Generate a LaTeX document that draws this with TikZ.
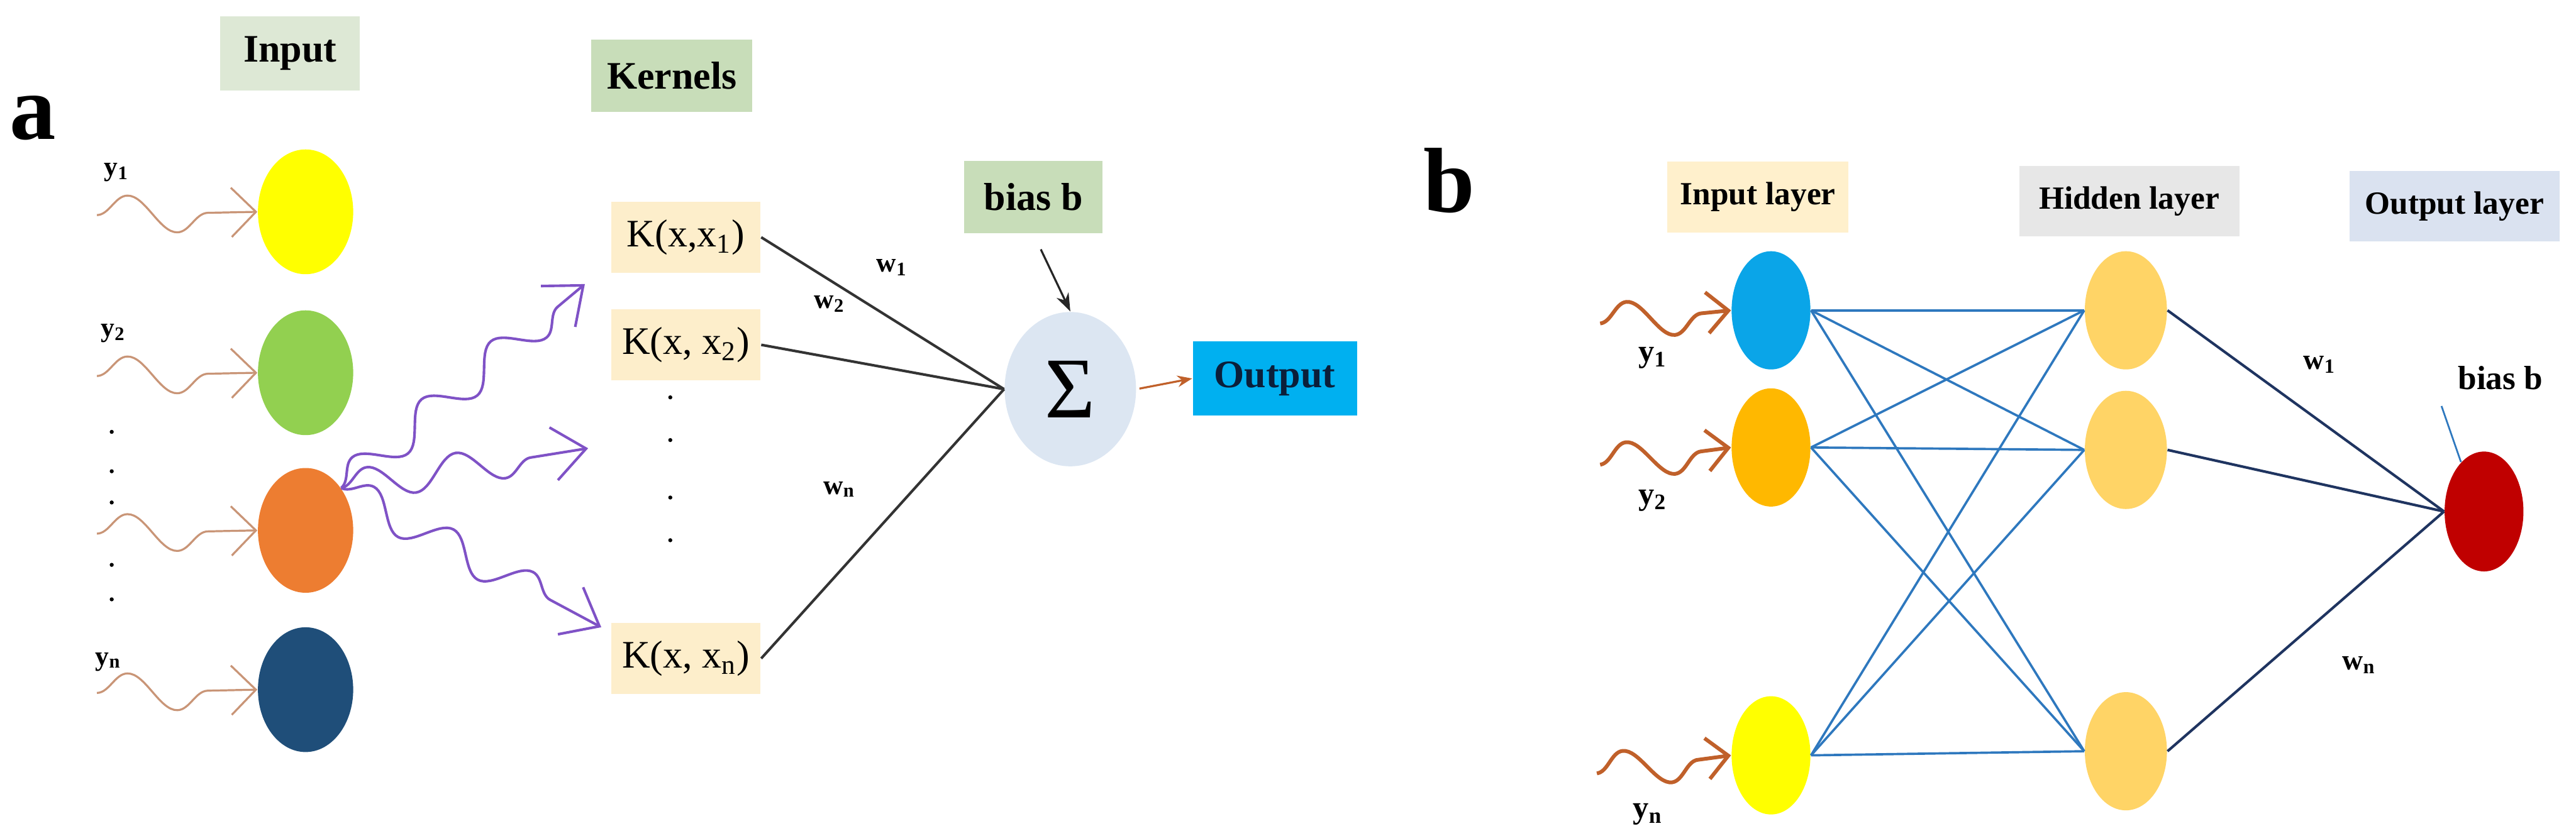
\documentclass[tikz,border=0pt]{standalone}
\usepackage{fontspec}
\setmainfont{Liberation Serif}
\usepackage{tikz}
\usetikzlibrary{positioning,arrows.meta,shapes.geometric,decorations.pathmorphing}

\definecolor{sagebox}{HTML}{DDE8D5}
\definecolor{greenbox}{HTML}{C8DDB9}
\definecolor{kfill}{HTML}{FDEECB}
\definecolor{sumfill}{HTML}{DCE6F2}
\definecolor{outcyan}{HTML}{00B0F0}
\definecolor{outtext}{HTML}{0B1F3A}
\definecolor{cyellow}{HTML}{FFFF00}
\definecolor{cgreen}{HTML}{92D050}
\definecolor{corange}{HTML}{ED7D31}
\definecolor{cnavy}{HTML}{1F4E79}
\definecolor{cblue}{HTML}{0AA5E8}
\definecolor{camber}{HTML}{FFB800}
\definecolor{chidden}{HTML}{FFD466}
\definecolor{cred}{HTML}{C00000}
\definecolor{peach}{HTML}{FFF0CC}
\definecolor{lgray}{HTML}{E7E7E7}
\definecolor{lblue}{HTML}{DAE2F0}
\definecolor{squigbrown}{HTML}{C99577}
\definecolor{squigrust}{HTML}{C0602A}
\definecolor{purp}{HTML}{7F52C6}
\definecolor{netblue}{HTML}{2E78BE}
\definecolor{netnavy}{HTML}{1F3460}

\newcommand{\fs}[1]{\fontsize{#1}{#1}\selectfont}

\begin{document}
\begin{tikzpicture}[x=0.02cm,y=-0.02cm,
  hdr/.style={fill=#1,font=\bfseries\fs{13.5},inner sep=0pt},
  layerhdr/.style={fill=#1,font=\bfseries\fs{11.2},inner sep=0pt,minimum height=0.86cm},
  unit/.style={ellipse,fill=#1,inner sep=0pt,minimum width=1.16cm,minimum height=1.52cm},
  neuron/.style={ellipse,fill=#1,inner sep=0pt,minimum width=0.96cm,minimum height=1.44cm},
  kern/.style={fill=kfill,font=\fs{13.5},inner sep=0pt,minimum width=1.82cm,minimum height=0.86cm},
  sub/.style={font=\bfseries\fs{#1},inner sep=1pt},
  squig/.style={draw=#1,decorate,
    decoration={snake,amplitude=2.3mm,segment length=12mm,post length=2.5mm},
    -{Straight Barb[length=3mm,width=6mm]}},
  weight/.style={draw=black!80,line width=0.9pt}]
  \useasboundingbox (0,0) rectangle (1568,506);

  % ---------------- panel a ----------------
  \node[font=\bfseries\fs{32}] (lbla) at (20,72) {a};
  \node[hdr=sagebox,minimum width=1.7cm,minimum height=0.9cm] (input) at (176.5,32.5) {Input};
  \node[hdr=greenbox,minimum width=1.96cm,minimum height=0.88cm] (kernels) at (409,46) {Kernels};

  % input units
  \foreach \n/\c/\y in {a1/cyellow/129,a2/cgreen/227,a3/corange/323,a4/cnavy/420}
    \node[unit=\c] (\n) at (186,\y) {};
  \foreach \n/\y in {s1/131,s2/229,s3/325,s4/422}
    \coordinate (\n) at (59,\y);
  \foreach \s/\n in {s1/a1,s2/a2,s3/a3,s4/a4}
    \draw[squig=squigbrown,line width=0.7pt] (\s) -- (\n.west);
  \node[sub=9.5] (ya1) at (71,105) {y\textsubscript{1}};
  \node[sub=9.5] (ya2) at (69,203) {y\textsubscript{2}};
  \node[sub=9.5] (yan) at (66,403) {y\textsubscript{n}};
  \foreach \y in {263,287,306,344,365}
    \fill (68,\y) circle (0.7pt);

  % kernels
  \node[kern] (k1) at (417.5,144.5) {K(x,x\textsubscript{1})};
  \node[kern] (k2) at (417.5,210) {K(x, x\textsubscript{2})};
  \node[kern] (kn) at (417.5,401) {K(x, x\textsubscript{n})};
  \foreach \y in {242,268,303,329}
    \fill (408,\y) circle (0.7pt);

  % purple fan from the third unit
  \coordinate (pk1) at (356,173);
  \coordinate (pk2) at (358,273);
  \coordinate (pkn) at (366,382);
  \foreach \e in {pk1,pk2,pkn}
    \draw[squig=purp,line width=0.9pt,decoration={amplitude=2mm,segment length=11mm,post length=3mm},
      -{Straight Barb[length=4mm,width=6.5mm]}] (a3.50) -- (\e);

  % summation node
  \node[ellipse,fill=sumfill,inner sep=0pt,minimum width=1.6cm,minimum height=1.88cm,font=\fs{30}] (sum) at (651.5,237) {Σ};
  \node[hdr=greenbox,minimum width=1.68cm,minimum height=0.88cm] (bias) at (629,120) {bias b};
  \node[fill=outcyan,text=outtext,font=\bfseries\fs{13.5},inner sep=0pt,minimum width=2cm,minimum height=0.9cm] (out) at (776,230.5) {Output};

  \foreach \k in {k1,k2,kn}
    \draw[weight] (\k.east) -- (sum.west);
  \node[sub=9.5] (wa1) at (543,163) {w\textsubscript{1}};
  \node[sub=9.5] (wa2) at (505,185) {w\textsubscript{2}};
  \node[sub=9.5] (wan) at (511,298) {w\textsubscript{n}};
  \draw[black!85,line width=0.7pt,shorten <=6pt,-{Stealth[length=2.2mm,width=1.6mm]}] (bias.south) -- (sum.north);
  \draw[squigrust,line width=0.7pt,shorten <=1pt,-{Stealth[length=1.8mm,width=1.4mm]}] (sum.east) -- (out.west);

  % ---------------- panel b ----------------
  \node[font=\bfseries\fs{32}] (lblb) at (882,110) {b};
  \node[layerhdr=peach,minimum width=2.2cm] (hin) at (1070,120) {Input layer};
  \node[layerhdr=lgray,minimum width=2.68cm] (hhid) at (1296,122.5) {Hidden layer};
  \node[layerhdr=lblue,minimum width=2.56cm] (hout) at (1494,125.5) {Output layer};

  \foreach \n/\c/\y in {b1/cblue/189,b2/camber/272.5,bn/cyellow/460}
    \node[neuron=\c] (\n) at (1078,\y) {};
  \foreach \n/\y in {h1/189,h2/274,hn/457.5}
    \node[neuron=chidden,minimum width=1cm] (\n) at (1294,\y) {};
  \node[neuron=cred,minimum height=1.46cm] (o) at (1512,311.5) {};

  \foreach \i in {b1,b2,bn}
    \foreach \j in {h1,h2,hn}
      \draw[netblue,line width=0.8pt] (\i.east) -- (\j.west);
  \foreach \j in {h1,h2,hn}
    \draw[netnavy,line width=0.9pt] (\j.east) -- (o.west);

  \coordinate (t1) at (974,197);
  \coordinate (t2) at (974,283);
  \coordinate (tn) at (972,471);
  \foreach \t/\n in {t1/b1,t2/b2,tn/bn}
    \draw[squig=squigrust,line width=1.3pt,decoration={amplitude=2.3mm,segment length=11mm,post length=2mm},
      -{Straight Barb[length=2.6mm,width=5mm]}] (\t) -- (\n.west);
  \node[sub=11] (yb1) at (1006,218) {y\textsubscript{1}};
  \node[sub=11] (yb2) at (1006,305) {y\textsubscript{2}};
  \node[sub=11] (ybn) at (1003,496) {y\textsubscript{n}};

  \node[sub=10] (wb1) at (1412,222) {w\textsubscript{1}};
  \node[sub=10] (wbn) at (1436,405) {w\textsubscript{n}};
  \node[sub=11.6] (bbias) at (1522,230) {bias b};
  \draw[netblue,line width=0.6pt] ([shift={(-8,8)}]bbias.south west) -- (o.115);
\end{tikzpicture}
\end{document}
